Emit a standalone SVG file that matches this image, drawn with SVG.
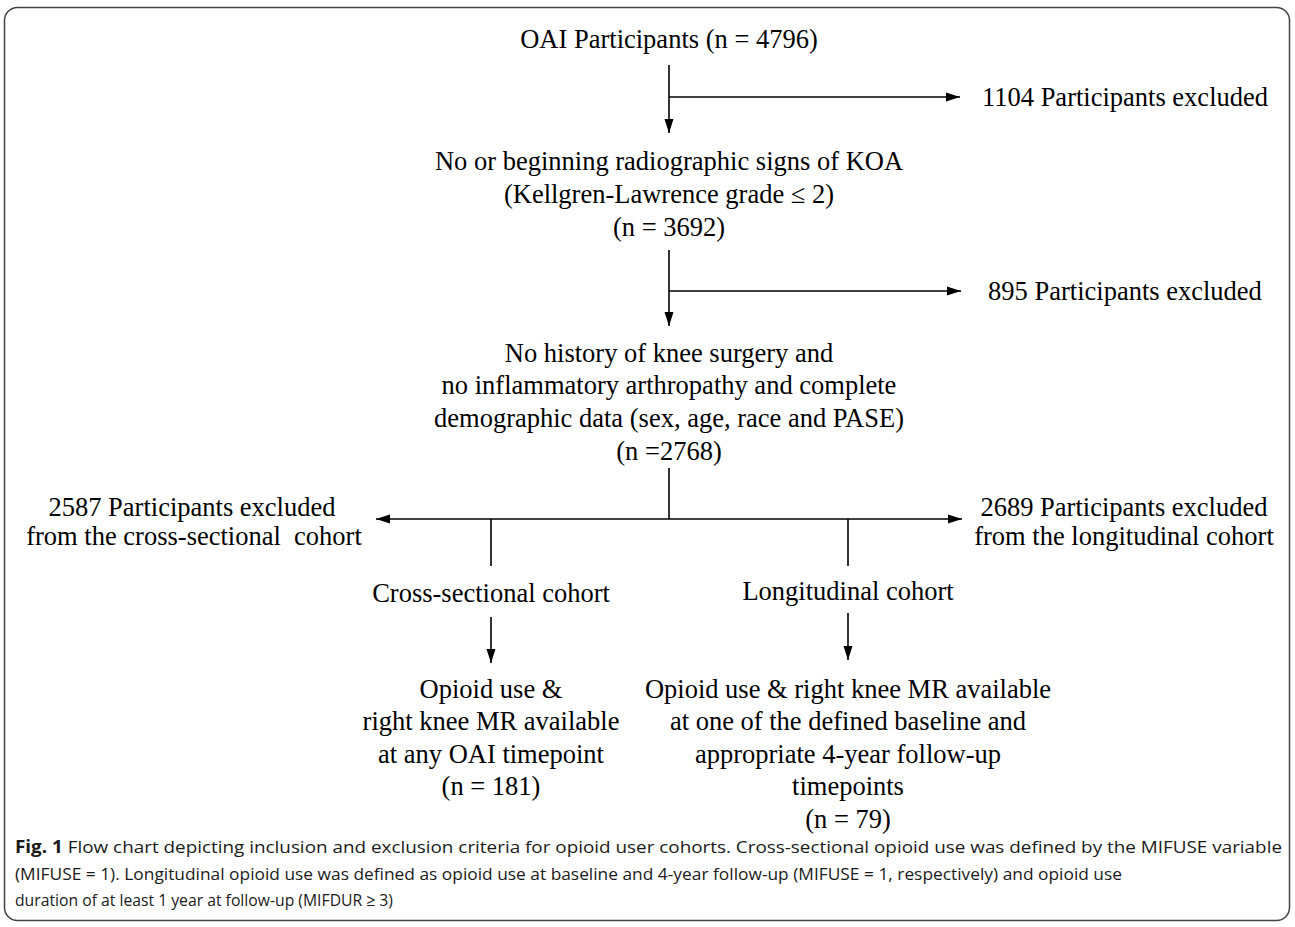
<svg xmlns="http://www.w3.org/2000/svg" width="1295" height="927" viewBox="0 0 1295 927">
<style>
  .t { font-family: "Liberation Serif", "Times New Roman", serif; font-size: 26.5px; fill: #000; text-anchor: middle; }
  .c { font-family: "Open Sans", "Liberation Sans", sans-serif; font-size: 17px; fill: #1a1a1a; }
  .b { font-weight: bold; }
  .ln { stroke: #000; stroke-width: 1.6; fill: none; }
  .frame { fill: #fff; stroke: #444; stroke-width: 1.5; }
</style>
<defs>
  <marker id="ah" markerUnits="userSpaceOnUse" markerWidth="15" markerHeight="12" refX="14" refY="6" orient="auto">
    <path d="M0,1.5 L14,6 L0,10.5 Z" fill="#000"/>
  </marker>
</defs>
<rect class="frame" x="4.5" y="7.5" width="1285" height="913" rx="13"/>

<g id="n-oai"><text class="t" x="669" y="48">OAI Participants (n = 4796)</text></g>
<g id="n-excl1"><text class="t" x="1125" y="106">1104 Participants excluded</text></g>
<g id="n-koa">
  <text class="t" x="669" y="170">No or beginning radiographic signs of KOA</text>
  <text class="t" x="669" y="203">(Kellgren-Lawrence grade ≤ 2)</text>
  <text class="t" x="669" y="236">(n = 3692)</text>
</g>
<g id="n-excl2"><text class="t" x="1125" y="300">895 Participants excluded</text></g>
<g id="n-hist">
  <text class="t" x="669" y="362">No history of knee surgery and</text>
  <text class="t" x="669" y="394">no inflammatory arthropathy and complete</text>
  <text class="t" x="669" y="427">demographic data (sex, age, race and PASE)</text>
  <text class="t" x="669" y="460">(n =2768)</text>
</g>
<g id="n-excl-cs">
  <text class="t" x="192" y="516">2587 Participants excluded</text>
  <text class="t" x="194" y="545" xml:space="preserve">from the cross-sectional  cohort</text>
</g>
<g id="n-excl-lg">
  <text class="t" x="1124" y="516">2689 Participants excluded</text>
  <text class="t" x="1124" y="545">from the longitudinal cohort</text>
</g>
<g id="n-cs"><text class="t" x="491" y="602">Cross-sectional cohort</text></g>
<g id="n-lg"><text class="t" x="848" y="600">Longitudinal cohort</text></g>
<g id="n-cs-res">
  <text class="t" x="491" y="698">Opioid use &amp;</text>
  <text class="t" x="491" y="730">right knee MR available</text>
  <text class="t" x="491" y="763">at any OAI timepoint</text>
  <text class="t" x="491" y="795">(n = 181)</text>
</g>
<g id="n-lg-res">
  <text class="t" x="848" y="698">Opioid use &amp; right knee MR available</text>
  <text class="t" x="848" y="730">at one of the defined baseline and</text>
  <text class="t" x="848" y="763">appropriate 4-year follow-up</text>
  <text class="t" x="848" y="795">timepoints</text>
  <text class="t" x="848" y="828">(n = 79)</text>
</g>

<g id="connectors">
  <line class="ln" x1="669" y1="65" x2="669" y2="133" marker-end="url(#ah)"/>
  <line class="ln" x1="669" y1="97" x2="960" y2="97" marker-end="url(#ah)"/>
  <line class="ln" x1="669" y1="250" x2="669" y2="326" marker-end="url(#ah)"/>
  <line class="ln" x1="669" y1="291" x2="961" y2="291" marker-end="url(#ah)"/>
  <line class="ln" x1="669" y1="468" x2="669" y2="519"/>
  <line class="ln" x1="669" y1="519" x2="376" y2="519" marker-end="url(#ah)"/>
  <line class="ln" x1="669" y1="519" x2="962" y2="519" marker-end="url(#ah)"/>
  <line class="ln" x1="491" y1="519" x2="491" y2="566"/>
  <line class="ln" x1="848" y1="519" x2="848" y2="566"/>
  <line class="ln" x1="491" y1="617" x2="491" y2="663" marker-end="url(#ah)"/>
  <line class="ln" x1="848" y1="613" x2="848" y2="660" marker-end="url(#ah)"/>
</g>

<g id="caption">
  <text class="c" x="15" y="853" textLength="1267" lengthAdjust="spacingAndGlyphs"><tspan class="b">Fig. 1</tspan> Flow chart depicting inclusion and exclusion criteria for opioid user cohorts. Cross-sectional opioid use was defined by the MIFUSE variable</text>
  <text class="c" x="15" y="880" textLength="1107" lengthAdjust="spacingAndGlyphs">(MIFUSE = 1). Longitudinal opioid use was defined as opioid use at baseline and 4-year follow-up (MIFUSE = 1, respectively) and opioid use</text>
  <text class="c" x="15" y="906" textLength="378" lengthAdjust="spacingAndGlyphs">duration of at least 1 year at follow-up (MIFDUR ≥ 3)</text>
</g>
</svg>
